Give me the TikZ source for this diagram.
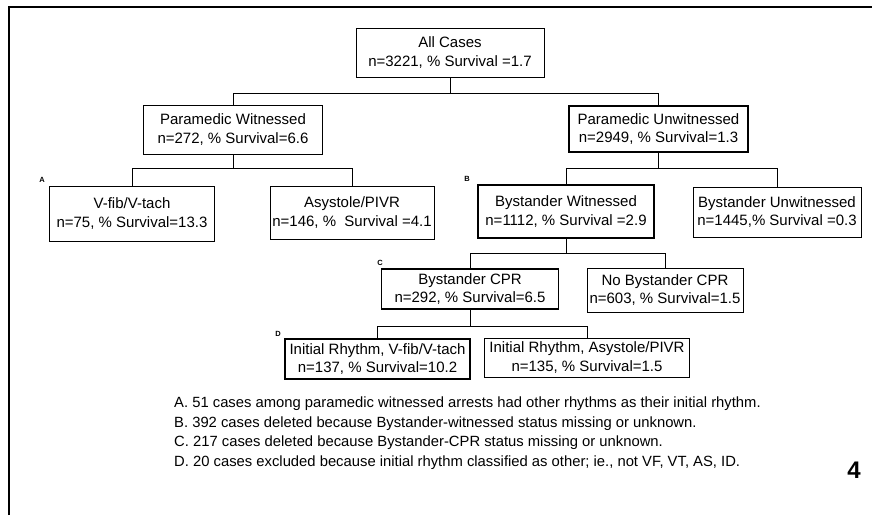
\documentclass[tikz,border=0pt]{standalone}
\usepackage{fontspec}
\setmainfont{Liberation Sans}
\usepackage{tikz}
\tikzstyle{box} = [draw, line width=0.9pt, align=center, inner sep=0pt, font=\fontsize{15}{18.5}\selectfont]
\tikzstyle{box_thick} = [box, line width=1.8pt]
\tikzstyle{link} = [line width=0.9pt]
\tikzstyle{tag} = [inner sep=0pt, font=\fontsize{7.5}{8}\selectfont\bfseries]
\tikzstyle{note} = [anchor=west, inner sep=0pt, font=\fontsize{14.8}{17}\selectfont]

\begin{document}
\begin{tikzpicture}[x=1pt, y=-1pt]
        \useasboundingbox (0,0) rectangle (872,515);
        \draw[line width=1.4pt] (9,515) -- (9,7) -- (872,7);

        % levels of the tree
        \coordinate (lvl1) at (0,93);
        \coordinate (lvl2) at (0,168);
        \coordinate (lvl3) at (0,253);
        \coordinate (lvl4) at (0,326);

        \node (allcases) [box, minimum width=188, minimum height=49] at (450,52.5) {All Cases\\ n=3221, \% Survival =1.7};
        \node (pw) [box, minimum width=179, minimum height=49] at (233,129.5) {Paramedic Witnessed\\n=272, \% Survival=6.6};
        \node (pu) [box_thick, minimum width=179, minimum height=46] at (658.5,129) {Paramedic Unwitnessed\\n=2949, \% Survival=1.3};
        \node (vf) [box, minimum width=165, minimum height=55] at (132,213.5) {V-fib/V-tach\\n=75, \% Survival=13.3};
        \node (as) [box, minimum width=164, minimum height=53] at (352,212.5) {Asystole/PIVR\\n=146, \%\ \ Survival =4.1};
        \node (bw) [box_thick, minimum width=176, minimum height=53] at (566,211.5) {Bystander Witnessed\\n=1112, \% Survival =2.9};
        \node (bu) [box, minimum width=168, minimum height=50] at (777,212) {Bystander Unwitnessed\\n=1445,\% Survival =0.3};
        \node (bcpr) [box_thick, minimum width=177, minimum height=40] at (470,289) {Bystander CPR\\n=292, \% Survival=6.5};
        \node (nbcpr) [box, minimum width=156, minimum height=44] at (665,290) {No Bystander CPR\\n=603, \% Survival=1.5};
        \node (irvf) [box_thick, minimum width=185, minimum height=40] at (377.5,359) {Initial Rhythm, V-fib/V-tach\\n=137, \% Survival=10.2};
        \node (iras) [box, minimum width=205, minimum height=39] at (587,357.5) {Initial Rhythm, Asystole/PIVR\\n=135, \% Survival=1.5};

        \draw[link] (allcases.south) -- (allcases.south |- lvl1);
        \draw[link] (pw.north) |- (pu.north |- lvl1) -- (pu.north);
        \draw[link] (pw.south) -- (pw.south |- lvl2);
        \draw[link] (vf.north) |- (as.north |- lvl2) -- (as.north);
        \draw[link] (pu.south) -- (pu.south |- lvl2);
        \draw[link] (bw.north) |- (bu.north |- lvl2) -- (bu.north);
        \draw[link] (bw.south) -- (bw.south |- lvl3);
        \draw[link] (bcpr.north) |- (nbcpr.north |- lvl3) -- (nbcpr.north);
        \draw[link] (bcpr.south) -- (bcpr.south |- lvl4);
        \draw[link] (irvf.north) |- (iras.north |- lvl4) -- (iras.north);

        \node (tagA) [tag] at (42,180) {A};
        \node (tagB) [tag] at (467,179) {B};
        \node (tagC) [tag] at (380,263) {C};
        \node (tagD) [tag] at (278,334) {D};

        \node (noteA) [note] at (174,404) {A. 51 cases among paramedic witnessed arrests had other rhythms as their initial rhythm.};
        \node (noteB) [note] at (174,423.5) {B. 392 cases deleted because Bystander-witnessed status missing or unknown.};
        \node (noteC) [note] at (174,443) {C. 217 cases deleted because Bystander-CPR status missing or unknown.};
        \node (noteD) [note] at (174,462.5) {D. 20 cases excluded because initial rhythm classified as other; ie., not VF, VT, AS, ID.};

        \node (pagenum) [font=\fontsize{24}{28}\selectfont\bfseries, inner sep=0pt] at (854,470) {4};
\end{tikzpicture}
\end{document}
